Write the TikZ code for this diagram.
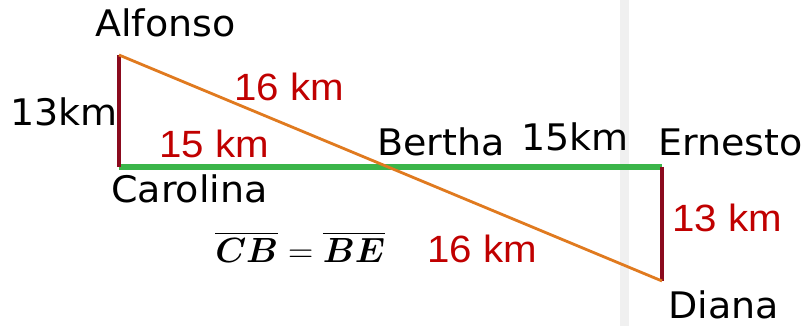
\documentclass[tikz,border=0pt]{standalone}
\usepackage{amsmath,amssymb,bm}
\usepackage{fontspec}
\usepackage{tikz}
\newfontfamily\namefont{DejaVu Sans}[FakeStretch=1.04]
\newfontfamily\distfont{Liberation Sans}[FakeStretch=1.06]
\definecolor{maroonS}{HTML}{8B0A1E}
\definecolor{orangeH}{HTML}{E07A1F}
\definecolor{greenB}{HTML}{3BB54A}
\definecolor{redkm}{HTML}{C00000}
\definecolor{bandgrey}{HTML}{F0F0F0}

\begin{document}
\begin{tikzpicture}[x=0.025cm, y=-0.025cm,
    placename/.style={anchor=base west, inner sep=0pt, font=\namefont\fontsize{26}{30}\selectfont},
    kmlabel/.style={anchor=base west, inner sep=0pt, text=redkm, font=\distfont\fontsize{27}{31}\selectfont}
]
\useasboundingbox (0,0) rectangle (804,326);
% ---- background band ----
\fill[bandgrey] (620,0) rectangle (629,326);

% ---- corners ----
\coordinate (A) at (119,55);
\coordinate (C) at (119,167);
\coordinate (E) at (662,167);
\coordinate (D) at (662,281);

% ---- sides ----
\draw[greenB, line width=3.8pt] (C) -- (E);
\draw[maroonS, line width=3.2pt] (A) -- (C);
\draw[maroonS, line width=3.2pt] (E) -- (D);
\draw[orangeH, line width=2pt] (A) -- (D);

% ---- names ----
\node[placename] (alfonso) at (95,37) {Alfonso};
\node[placename] (carolina) at (111,203) {Carolina};
\node[placename] (bertha) at (377,156) {Bertha};
\node[placename] (ernesto) at (658,156) {Ernesto};
\node[placename] (diana) at (668,319) {Diana};
\node[placename] (ac) at (10,126) {13km};
\node[placename] (be) at (521,151) {15km};

% ---- distances ----
\node[kmlabel] (ab) at (234,101) {16 km};
\node[kmlabel] (cb) at (159,158) {15 km};
\node[kmlabel] (bd) at (427,263) {16 km};
\node[kmlabel] (ed) at (672,232) {13 km};

% ---- equal segments ----
\node[anchor=base west, inner sep=0pt, font=\fontsize{27}{32}\selectfont] (eq) at (215,263)
  {$\overline{\bm{C}\bm{B}} = \overline{\bm{B}\bm{E}}$};
\end{tikzpicture}
\end{document}
